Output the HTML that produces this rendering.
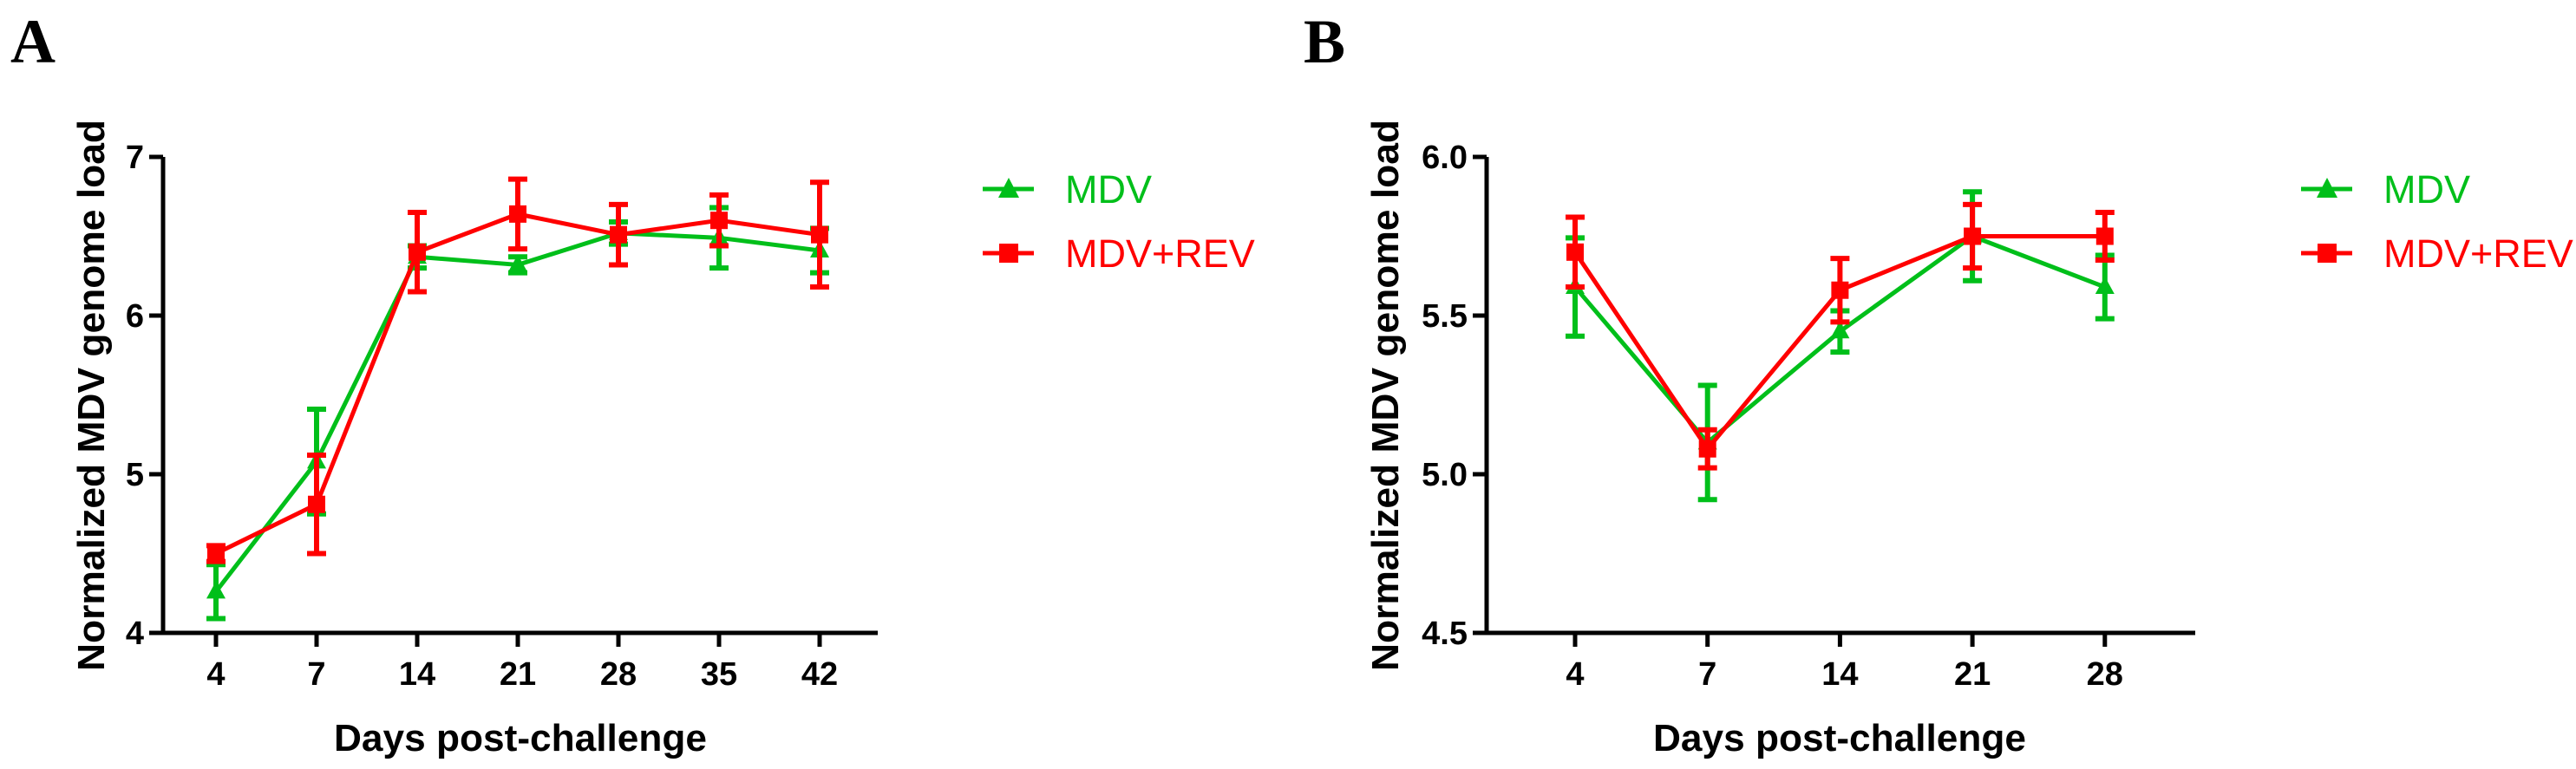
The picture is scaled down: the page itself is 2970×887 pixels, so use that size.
<!DOCTYPE html>
<html><head><meta charset="utf-8">
<style>
html,body{margin:0;padding:0;background:#fff;}
svg{display:block;font-family:"Liberation Sans",Arial,sans-serif;}
</style></head>
<body>
<svg id="fig" width="2970" height="887" viewBox="0 0 2970 887" xmlns="http://www.w3.org/2000/svg">
<text x="12" y="72" font-family="Liberation Serif,serif" font-weight="bold" font-size="72">A</text>
<text x="1503" y="72" font-family="Liberation Serif,serif" font-weight="bold" font-size="72">B</text>
<g id="panelA"></g>
<g id="panelB"></g>
</svg>
<script>
// Panel A data
const catsA = ["4","7","14","21","28","35","42"];
const mdvA = [4.26, 5.08, 6.37, 6.32, 6.52, 6.49, 6.41];
const mdvAErr = [0.17, 0.33, 0.07, 0.05, 0.07, 0.19, 0.14];
const revA = [4.50, 4.81, 6.40, 6.64, 6.51, 6.60, 6.51];
const revAErr = [0.05, 0.31, 0.25, 0.22, 0.19, 0.16, 0.33];
const yTicksA = ["4","5","6","7"];
// Panel B data
const catsB = ["4","7","14","21","28"];
const mdvB = [5.59, 5.10, 5.45, 5.75, 5.59];
const mdvBErr = [0.155, 0.18, 0.065, 0.14, 0.10];
const revB = [5.70, 5.08, 5.58, 5.75, 5.75];
const revBErr = [0.11, 0.06, 0.10, 0.10, 0.075];
const yTicksB = ["4.5","5.0","5.5","6.0"];

const NS="http://www.w3.org/2000/svg";
const GREEN="#00bf1a", RED="#ff0000";
function mk(parent,tag,attrs,txt){const e=document.createElementNS(NS,tag);for(const k in attrs)e.setAttribute(k,attrs[k]);if(txt!==undefined)e.textContent=txt;parent.appendChild(e);return e;}

function drawPanel(g,cfg){
  const {cats,s1,e1,s2,e2,yTicks,ymin,ymax,axX,x0,dx,axEnd,yTop,yBot,legX,titleX,yTitleX}=cfg;
  const X=i=>x0+i*dx;
  const Y=v=>yBot-(v-ymin)/(ymax-ymin)*(yBot-yTop);
  // axes
  let a=mk(g,"line",{x1:axX,y1:yTop,x2:axX,y2:yBot+2,stroke:"#000","stroke-width":5});
  
  
  a=mk(g,"line",{x1:axX-16,y1:yBot,x2:axEnd,y2:yBot,stroke:"#000","stroke-width":5});
  
  
  yTicks.forEach(t=>{
    const yy=Y(parseFloat(t));
    const l=mk(g,"line",{x1:axX-16,y1:yy,x2:axX,y2:yy,stroke:"#000","stroke-width":5});
    
    
    const tx=mk(g,"text",{x:axX-22,y:yy+13,"text-anchor":"end","font-size":38,"font-weight":"bold"},t);
    
    
  });
  cats.forEach((c,i)=>{
    const l=mk(g,"line",{x1:X(i),y1:yBot,x2:X(i),y2:yBot+16,stroke:"#000","stroke-width":5});
    
    
    const tx=mk(g,"text",{x:X(i),y:yBot+60,"text-anchor":"middle","font-size":38,"font-weight":"bold"},c);
    
    
  });
  let t=mk(g,"text",{x:titleX,y:866,"text-anchor":"middle","font-size":44,"font-weight":"bold",textLength:430,lengthAdjust:"spacingAndGlyphs"},"Days post-challenge");
  
  
  t=mk(g,"text",{x:0,y:0,transform:`translate(${yTitleX},456) rotate(-90)`,"text-anchor":"middle","font-size":44,"font-weight":"bold",textLength:636,lengthAdjust:"spacingAndGlyphs"},"Normalized MDV genome load");
  
  

  function series(vals,errs,color,shape,name){
    const sg=mk(g,"g",{});
    
    
    const pts=vals.map((v,i)=>X(i)+","+Y(v)).join(" ");
    const pl=mk(sg,"polyline",{points:pts,fill:"none",stroke:color,"stroke-width":5,"stroke-linejoin":"round"});
    
    
    vals.forEach((v,i)=>{
      const x=X(i),y1=Y(v+errs[i]),y2=Y(v-errs[i]);
      const eb=mk(sg,"path",{d:`M${x},${y1}V${y2}M${x-11},${y1}H${x+11}M${x-11},${y2}H${x+11}`,stroke:color,"stroke-width":6,fill:"none"});
      
      
      let m;
      if(shape==="tri") m=mk(sg,"polygon",{points:`${x},${Y(v)-12} ${x-11},${Y(v)+8} ${x+11},${Y(v)+8}`,fill:color});
      else m=mk(sg,"rect",{x:x-10,y:Y(v)-10,width:20,height:20,fill:color});
      
      
    });
  }
  series(s1,e1,GREEN,"tri","mdv");
  series(s2,e2,RED,"sq","mdv-rev");

  // legend
  const lg=mk(g,"g",{});
  
  
  const e1g=mk(lg,"g",{});
  
  
  mk(e1g,"line",{x1:legX,y1:218,x2:legX+59,y2:218,stroke:GREEN,"stroke-width":5});
  mk(e1g,"polygon",{points:`${legX+30},${205} ${legX+18},${228} ${legX+42},${228}`,fill:GREEN});
  mk(e1g,"text",{x:legX+95,y:234,"font-size":45,fill:GREEN},"MDV");
  const e2g=mk(lg,"g",{});
  
  
  mk(e2g,"line",{x1:legX,y1:292,x2:legX+59,y2:292,stroke:RED,"stroke-width":5});
  mk(e2g,"rect",{x:legX+19,y:281,width:22,height:22,fill:RED});
  mk(e2g,"text",{x:legX+95,y:308,"font-size":45,fill:RED},"MDV+REV");
}

drawPanel(document.getElementById("panelA"),{cats:catsA,s1:mdvA,e1:mdvAErr,s2:revA,e2:revAErr,yTicks:yTicksA,ymin:4,ymax:7,axX:188,x0:249,dx:116,axEnd:1012,yTop:181,yBot:730,legX:1133,titleX:600,yTitleX:120});
drawPanel(document.getElementById("panelB"),{cats:catsB,s1:mdvB,e1:mdvBErr,s2:revB,e2:revBErr,yTicks:yTicksB,ymin:4.5,ymax:6.0,axX:1714,x0:1816,dx:152.7,axEnd:2531,yTop:181,yBot:730,legX:2653,titleX:2121,yTitleX:1612});
</script>
</body></html>
